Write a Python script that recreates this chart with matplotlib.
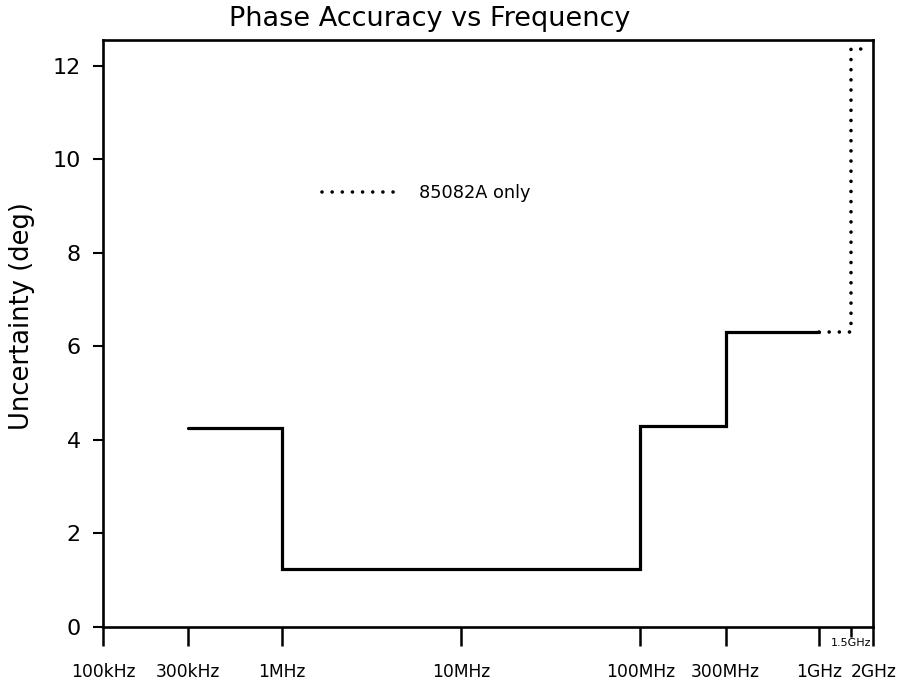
import matplotlib
matplotlib.use("Agg")
import matplotlib.pyplot as plt
from matplotlib.ticker import FixedLocator, NullLocator, FixedFormatter
from matplotlib.lines import Line2D
import matplotlib.transforms as mtransforms

plt.rcParams['font.family'] = ['DejaVu Sans']

# ---- data ----
solid_edges = [3e5, 1e6, 1e8, 3e8, 1e9]          # Hz
solid_values = [4.25, 1.25, 4.3, 6.3]             # deg
dotted_edges = [1e9, 1.5e9, 1.8e9]                # Hz (85082A only)
dotted_values = [6.3, 12.35]                      # deg

xtick_values = [1e5, 3e5, 1e6, 1e7, 1e8, 3e8, 1e9, 2e9]
xtick_labels = ["100kHz", "300kHz", "1MHz", "10MHz", "100MHz", "300MHz", "1GHz", "2GHz"]
minor_tick_values = [1.5e9]
minor_tick_labels = ["1.5GHz"]
ytick_values = [0, 2, 4, 6, 8, 10, 12]

title = "Phase Accuracy vs Frequency"
ylabel = "Uncertainty (deg)"
legend_label = "85082A only"

DOT = (0, (0.01, 2.8))

# ---- figure ----
fig = plt.figure(figsize=(9.03, 6.83), dpi=100)
ax = fig.add_axes([0.114, 0.082, 0.853, 0.859])

ax.stairs(solid_values, solid_edges, baseline=None, color="black", linewidth=2.3)
ax.stairs(dotted_values, dotted_edges, baseline=None, color="black", linewidth=2.6,
          linestyle=DOT)
for art in ax.patches:
    art.set_capstyle("round")

ax.set_xscale("log")
ax.set_xlim(1e5, 2e9)
ax.set_ylim(0, 12.54)

ax.xaxis.set_major_locator(FixedLocator(xtick_values))
ax.xaxis.set_major_formatter(FixedFormatter(xtick_labels))
ax.xaxis.set_minor_locator(FixedLocator(minor_tick_values))
ax.xaxis.set_minor_formatter(FixedFormatter([""]))
ax.tick_params(axis="x", which="major", direction="out", length=14, width=1.8,
               pad=12, labelsize=12.3)
ax.tick_params(axis="x", which="minor", direction="out", length=7, width=1.8)

ax.set_yticks(ytick_values)
ax.tick_params(axis="y", which="major", direction="out", length=7, width=1.5,
               pad=9, labelsize=16)
ax.yaxis.set_minor_locator(NullLocator())

for sp in ax.spines.values():
    sp.set_linewidth(1.9)
    sp.set_color("black")

# small 1.5GHz label
trans = mtransforms.blended_transform_factory(ax.transData, ax.transAxes)
ax.text(minor_tick_values[0], -0.018, minor_tick_labels[0], transform=trans,
        ha="center", va="top", fontsize=8)

ax.set_ylabel(ylabel, fontsize=18.5)
ax.yaxis.set_label_coords(-0.088, 0.53)
fig.text(0.476, 1 - 26.5 / 683, title, ha="center", va="baseline", fontsize=19.5)

handle = Line2D([], [], color="black", linewidth=2.6, linestyle=DOT,
                dash_capstyle="round")
ax.legend([handle], [legend_label], loc="center left", frameon=False,
          bbox_to_anchor=(0.284, 0.739), borderpad=0, borderaxespad=0,
          fontsize=12.8, handlelength=4.5, handletextpad=1.0)

fig.savefig("out.png", dpi=100)
